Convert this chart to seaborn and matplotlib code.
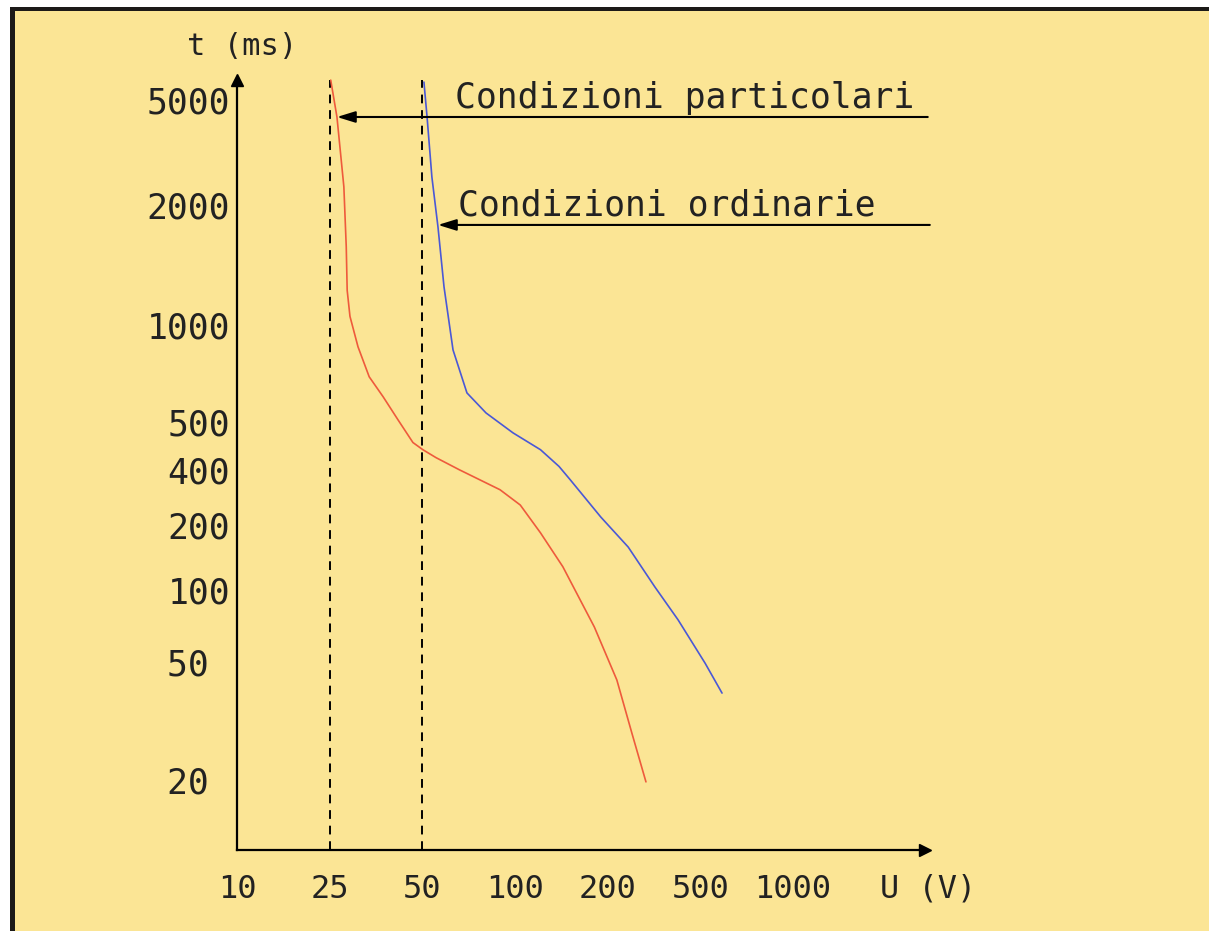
import numpy as np
import pandas as pd
import matplotlib
matplotlib.use("Agg")
import matplotlib.pyplot as plt
from matplotlib.patches import Rectangle
import seaborn as sns

# ---------------- data ----------------
X_TICKS = [10, 25, 50, 100, 200, 500, 1000]
X_TICK_LABELS = ["10", "25", "50", "100", "200", "500", "1000"]
Y_TICKS = [20, 50, 100, 200, 400, 500, 1000, 2000, 5000]
Y_TICK_LABELS = ["20 ", "50 ", "100", "200", "400", "500", "1000", "2000", "5000"]

# Condizioni particolari (red)
V_PART = [25.2, 26.4, 27.8, 28.3, 28.5, 29.1, 30.9, 33.6, 37.3, 41.7, 46.6, 50.2,
          55.4, 65.8, 89.4, 104, 121, 143, 181, 219, 254, 292]
T_PART = [5950, 4310, 2340, 1570, 1220, 1050, 855, 690, 598, 507, 454, 439,
          423, 400, 311, 257, 184, 128, 70, 43.5, 28.8, 19.7]
# Condizioni ordinarie (blue)
V_ORD = [50.6, 51.8, 53.7, 56.2, 58.8, 62.9, 69.8, 80.5, 98.5, 121, 139, 151,
         190, 245, 319, 401, 518, 588]
T_ORD = [5850, 4310, 2550, 1760, 1245, 836, 615, 533, 475, 439, 406, 353,
         221, 158, 103, 75, 49.6, 39.3]

LIMIT_VOLTAGES = [25, 50]
LABEL_PART = "Condizioni particolari"
LABEL_ORD = "Condizioni ordinarie"

# ---------------- layout / style ----------------
W, H = 1209, 931
BG = "#FBE595"
RED = "#EE5A3C"
BLUE = "#4A58D6"
AX_L, AX_R, AX_T, AX_B = 237, 925, 80, 850          # axes box in pixels
X_POS = np.arange(len(X_TICKS), dtype=float)        # equally spaced tick slots
X_MAX_POS = (AX_R - AX_L) / 92.67
Y_POS = [0.091, 0.244, 0.338, 0.422, 0.494, 0.556, 0.682, 0.838, 0.974]


def piecewise(xs, ys):
    xs = np.asarray(xs, float)
    ys = np.asarray(ys, float)

    def f(x):
        x = np.atleast_1d(np.asarray(x, float))
        out = np.interp(x, xs, ys)
        lo = x < xs[0]
        hi = x > xs[-1]
        out[lo] = ys[0] + (x[lo] - xs[0]) * (ys[1] - ys[0]) / (xs[1] - xs[0])
        out[hi] = ys[-1] + (x[hi] - xs[-1]) * (ys[-1] - ys[-2]) / (xs[-1] - xs[-2])
        return out
    return f


lx = np.log10(X_TICKS)
ly = np.log10(Y_TICKS)
_xf = piecewise(lx, X_POS)
_xi = piecewise(X_POS, lx)
_yf = piecewise(ly, Y_POS)
_yi = piecewise(Y_POS, ly)


def x_fwd(v):
    with np.errstate(all="ignore"):
        return _xf(np.log10(np.clip(v, 1e-6, None)))


def x_inv(p):
    return 10 ** _xi(p)


def y_fwd(v):
    with np.errstate(all="ignore"):
        return _yf(np.log10(np.clip(v, 1e-6, None)))


def y_inv(p):
    return 10 ** _yi(p)


sns.set_style("white")
plt.rcParams["font.family"] = ["DejaVu Sans Mono", "DejaVu Sans"]

fig = plt.figure(figsize=(W / 100, H / 100), dpi=100, facecolor=BG)
ax = fig.add_axes([AX_L / W, 1 - AX_B / H, (AX_R - AX_L) / W, (AX_B - AX_T) / H])
ax.set_facecolor("none")

ax.set_xscale("function", functions=(x_fwd, x_inv))
ax.set_yscale("function", functions=(y_fwd, y_inv))
ax.set_xlim(float(x_inv(0.0)[0]), float(x_inv(X_MAX_POS)[0]))
ax.set_ylim(float(y_inv(0.0)[0]), float(y_inv(1.0)[0]))

df = pd.concat([
    pd.DataFrame({"U": V_PART, "t": T_PART, "cond": "part", "order": range(len(V_PART))}),
    pd.DataFrame({"U": V_ORD, "t": T_ORD, "cond": "ord", "order": range(len(V_ORD))}),
])
sns.lineplot(data=df, x="U", y="t", hue="cond", units="cond", estimator=None,
             sort=False, palette={"part": RED, "ord": BLUE}, lw=1.2,
             legend=False, ax=ax)
for ln in ax.lines:
    ln.set_clip_on(False)

for v in LIMIT_VOLTAGES:
    ax.axvline(v, color="black", lw=1.4, dashes=(4.5, 3.5), zorder=1)

# axes styling
for s in ["top", "right"]:
    ax.spines[s].set_visible(False)
for s in ["left", "bottom"]:
    ax.spines[s].set_linewidth(1.6)
    ax.spines[s].set_color("black")
ax.plot(0, 1, marker="^", color="black", ms=9, transform=ax.transAxes, clip_on=False)
ax.plot(1, 0, marker=">", color="black", ms=9, transform=ax.transAxes, clip_on=False)

ax.set_xticks(X_TICKS)
ax.set_xticklabels(X_TICK_LABELS)
ax.set_yticks(Y_TICKS)
ax.set_yticklabels(Y_TICK_LABELS)
ax.minorticks_off()
ax.tick_params(axis="x", length=0, pad=17, labelsize=23, colors="#222222")
ax.tick_params(axis="y", length=0, pad=5, labelsize=25, colors="#222222")
ax.set_xlabel("")
ax.set_ylabel("")

# annotations with arrows
arrow = dict(arrowstyle="-|>,head_length=0.55,head_width=0.17", color="black",
             lw=1.5, shrinkA=0, shrinkB=0, mutation_scale=20)
ax.annotate("", xy=(V_PART[1], T_PART[1]), xytext=(1.004, T_PART[1]),
            xycoords="data", textcoords=("axes fraction", "data"), arrowprops=arrow)
ax.annotate("", xy=(56.2, 1780), xytext=(1.007, 1780),
            xycoords="data", textcoords=("axes fraction", "data"), arrowprops=arrow)

fig.text(455 / W, 1 - 108 / H, LABEL_PART, fontsize=25, va="baseline", ha="left", color="#222222")
fig.text(458 / W, 1 - 215 / H, LABEL_ORD, fontsize=25, va="baseline", ha="left", color="#222222")
fig.text(242 / W, 1 - 55 / H, "t (ms)", fontsize=22, va="baseline", ha="center", color="#222222")
fig.text(880 / W, 1 - 897 / H, "U (V)", fontsize=23, va="baseline", ha="left", color="#222222")

# page frame: white margin + dark border lines at top and left
fig.patches.append(Rectangle((0, 1 - 7 / H), 1, 7 / H, transform=fig.transFigure,
                             facecolor="white", edgecolor="none"))
fig.patches.append(Rectangle((0, 0), 10 / W, 1, transform=fig.transFigure,
                             facecolor="white", edgecolor="none"))
fig.patches.append(Rectangle((10 / W, 1 - 11 / H), 1, 4 / H, transform=fig.transFigure,
                             facecolor="#1c1a18", edgecolor="none"))
fig.patches.append(Rectangle((10 / W, 0), 5 / W, 1 - 7 / H, transform=fig.transFigure,
                             facecolor="#1c1a18", edgecolor="none"))

fig.savefig("out.png", dpi=100, facecolor=fig.get_facecolor())
